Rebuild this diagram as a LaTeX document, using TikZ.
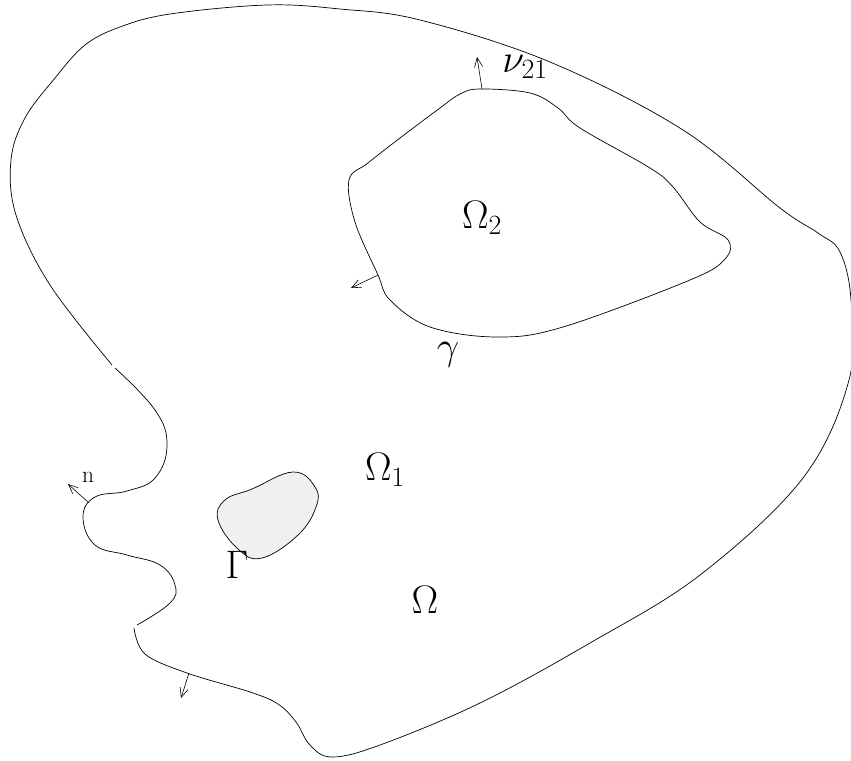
\RequirePackage{fix-cm}
\documentclass[tikz,border=0pt]{standalone}
\usepackage{tikz}
\usepackage{xcolor}
\usetikzlibrary{arrows.meta}
\definecolor{hole}{HTML}{F0F0F0}

\tikzset{
  bdry/.style={line width=0.6pt, line join=round},
  normal/.style={line width=0.5pt, -{Straight Barb[length=8pt, width=7pt]}},
  lbl/.style={inner sep=0pt, font=\fontsize{34}{40}\selectfont}
}

\begin{document}
\begin{tikzpicture}[x=0.03cm, y=-0.03cm]
  \useasboundingbox (0,0) rectangle (851,760);
  % outer boundary, in two pieces
  \draw[bdry] plot[smooth, tension=0.6] coordinates {
    (112,365) (50,285) (16,215) (11,160) (25,118) (55,78) (85,45) (120,27)
    (170,14) (267,5) (340,9) (420,20) (550,62) (683,130) (780,208)
    (818,233) (840,252) (851,300) (849,380) (803,478) (700,575) (590,643)
    (480,703) (380,745) (332,757) (310,745) (296,722) (278,704) (250,692)
    (187,673) (145,654) (134,628)};
  \draw[bdry] plot[smooth, tension=0.7] coordinates {
    (137,625) (170,603) (175,585) (160,565) (127,555) (95,545) (83,517)
    (95,497) (127,491) (155,478) (167,445) (155,410) (115,368)};
  % inner subdomain
  \draw[bdry] plot[smooth cycle, tension=0.6] coordinates {
    (480,89) (530,93) (558,108) (580,128) (650,168) (673,187) (700,222)
    (728,240) (725,259) (690,280) (563,327) (497,337) (430,327) (390,300)
    (378,275) (355,222) (349,180) (368,163) (400,138) (440,108) (460,94)};
  % hole
  \draw[bdry, fill=hole] plot[smooth cycle, tension=0.7] coordinates {
    (293,472) (315,487) (316,507) (298,535) (262,558) (238,549) (218,520)
    (225,500) (252,489)};
  % normals
  \coordinate (nu0) at (482,89);   \coordinate (nu1) at (477,57);
  \coordinate (gm0) at (378,275);  \coordinate (gm1) at (351,288);
  \coordinate (n0) at (89,503);    \coordinate (n1) at (68,484);
  \coordinate (b0) at (189,673);   \coordinate (b1) at (181,698);
  \draw[normal] (nu0) -- (nu1);
  \draw[normal] (gm0) -- (gm1);
  \draw[normal] (n0) -- (n1);
  \draw[normal] (b0) -- (b1);
  % labels
  \node[lbl] (om2) at (482,218) {$\Omega_2$};
  \node[lbl] (gam) at (448,355) {$\gamma$};
  \node[lbl] (nu) at (525,67) {$\nu_{21}$};
  \node[lbl] (om1) at (385,470) {$\Omega_1$};
  \node[lbl] (om) at (425,600) {$\Omega$};
  \node[lbl] (gmm) at (237,565) {$\Gamma$};
  \node[inner sep=0pt, font=\fontsize{20}{24}\selectfont] (nn) at (88,477) {n};
\end{tikzpicture}
\end{document}
